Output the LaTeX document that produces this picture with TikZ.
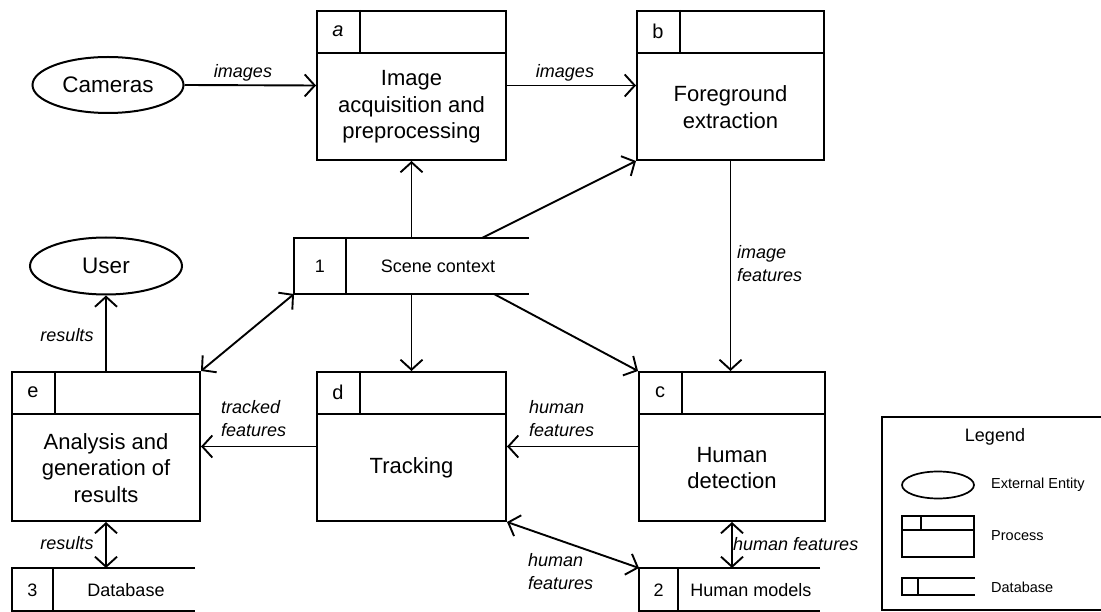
\documentclass[tikz,border=0pt]{standalone}
\usepackage{fontspec}
\setmainfont{Liberation Sans}
\usetikzlibrary{arrows.meta,shapes.geometric,calc}

% process box: name, centre, width, tag, body text
\newcommand\procbox[5]{%
  \node[procframe, minimum width=#3pt] (#1) at (#2) {};
  \draw[frameline] ([yshift=-43pt]#1.north west) -- ([yshift=-43pt]#1.north east);
  \draw[frameline] ([xshift=44pt]#1.north west) -- ([xshift=44pt,yshift=-43pt]#1.north west);
  \node[tagtext] (#1-tag) at ([xshift=22pt,yshift=-21.5pt]#1.north west) {#4};
  \node[bodytext] (#1-body) at ($([yshift=-43pt]#1.north)!0.5!(#1.south)$) {#5};
}
% data store outline: name, width of the number cell
\newcommand\storelines[2]{%
  \draw[frameline] (#1.north east) -- (#1.north west) -- (#1.south west) -- (#1.south east);
  \draw[frameline] ([xshift=#2pt]#1.north west) -- ([xshift=#2pt]#1.south west);
}

\begin{document}
\begin{tikzpicture}[x=1pt,y=-1pt,
  frameline/.style={line width=2pt},
  procframe/.style={draw, line width=2pt, rectangle, inner sep=0pt, minimum height=149pt},
  storeframe/.style={rectangle, draw=none, inner sep=0pt, outer sep=0pt, minimum height=43pt},
  entity/.style={draw, line width=2pt, ellipse, inner sep=0pt, font=\fontsize{22.5}{26}\selectfont},
  tagtext/.style={inner sep=0pt, font=\fontsize{20}{24}\selectfont},
  bodytext/.style={inner sep=0pt, align=center, font=\fontsize{22}{26.5}\selectfont},
  storetext/.style={inner sep=0pt, font=\fontsize{18}{22}\selectfont},
  flowlabel/.style={inner sep=0pt, align=left, font=\fontsize{18}{23}\selectfont\itshape},
  legtext/.style={inner sep=0pt, anchor=west, font=\fontsize{14.5}{17}\selectfont},
  flow/.style={line width=1.9pt, -{Straight Barb[length=10pt,width=22pt]}},
  bothways/.style={line width=1.9pt, {Straight Barb[length=10pt,width=22pt]}-{Straight Barb[length=10pt,width=22pt]}}
]
\useasboundingbox (0,0) rectangle (1101,612);
\clip (0,0) rectangle (1101,612);

% external entities
\node[entity, minimum width=151pt, minimum height=56pt] (cam) at (108,85) {Cameras};
\node[entity, minimum width=152pt, minimum height=57pt] (user) at (106,266) {User};

% processes
\procbox{pa}{411.5,85.5}{189}{\textit{a}}{Image\\acquisition and\\preprocessing}
\procbox{pb}{730.5,85.5}{187}{b}{Foreground\\extraction}
\procbox{pc}{732,446.5}{186}{c}{Human\\detection}
\procbox{pd}{411.5,446.5}{189}{d}{Tracking}
\procbox{pe}{106,446.5}{188}{e}{Analysis and\\generation of\\results}

% data stores
\node[storeframe, minimum width=235pt, minimum height=56pt] (scene) at (411.5,266) {};
\storelines{scene}{52}
\node[storetext] (scene-num) at (320,266) {1};
\node[storetext] (scene-txt) at (438,266) {Scene context};

\node[storeframe, minimum width=183pt] (db) at (103.5,589.5) {};
\storelines{db}{41}
\node[storetext] (db-num) at (32.5,590) {3};
\node[storetext] (db-txt) at (126,590) {Database};

\node[storeframe, minimum width=181pt] (hm) at (729.5,589.5) {};
\storelines{hm}{39}
\node[storetext] (hm-num) at (658.5,590) {2};
\node[storetext] (hm-txt) at (751,590) {Human models};

% data flows
\draw[flow] (cam.east) -- (pa.west);
\draw[flow] (pa.east) -- (pb.west);
\draw[flow] (scene.north) -- (pa.south);
\draw[flow] ([xshift=70.5pt]scene.north) -- (pb.south west);
\draw[flow] (pb.south) -- (pb.south |- pc.north);
\draw[flow] ([xshift=82.5pt]scene.south) -- (pc.north west);
\draw[flow] (scene.south) -- (pd.north);
\draw[bothways] (scene.south west) -- (pe.north east);
\draw[flow] (pe.north) -- (user.south);
\draw[flow] (pc.west) -- (pd.east);
\draw[flow] (pd.west) -- (pe.east);
\draw[bothways] (pe.south) -- (pe.south |- db.north);
\draw[bothways] (pc.south) -- (pc.south |- hm.north);
\draw[bothways] (pd.south east) -- (hm.north west);

% flow labels
\node[flowlabel] (l-cam) at (243,73) {images};
\node[flowlabel] (l-ab) at (565,73) {images};
\node[flowlabel, anchor=west] (l-bc) at (737,263.5) {image\\features};
\node[flowlabel] (l-user) at (67,335) {results};
\node[flowlabel, anchor=west] (l-de) at (221,418.5) {tracked\\features};
\node[flowlabel, anchor=west] (l-cd) at (529,418.5) {human\\features};
\node[flowlabel] (l-db) at (67,543) {results};
\node[flowlabel, anchor=west] (l-chm) at (733,544) {human features};
\node[flowlabel, anchor=west] (l-dhm) at (528,572) {human\\features};

% legend
\node[draw, line width=2pt, rectangle, inner sep=0pt, minimum width=238pt, minimum height=193pt] (legend) at (1001,513.5) {};
\node[inner sep=0pt, font=\fontsize{18}{22}\selectfont] (leg-title) at (995,437) {Legend};
\node[draw, line width=1.7pt, ellipse, inner sep=0pt, minimum width=72pt, minimum height=27pt] (leg-ent) at (938,485) {};
\node[legtext] (leg-ent-txt) at (991,485) {External Entity};
\node[draw, line width=1.7pt, rectangle, inner sep=0pt, minimum width=72pt, minimum height=41pt] (leg-proc) at (938,536.5) {};
\draw[line width=1.7pt] ([yshift=-15pt]leg-proc.north west) -- ([yshift=-15pt]leg-proc.north east);
\draw[line width=1.7pt] ([xshift=20pt]leg-proc.north west) -- ([xshift=20pt,yshift=-15pt]leg-proc.north west);
\node[legtext] (leg-proc-txt) at (991,536) {Process};
\node[rectangle, draw=none, inner sep=0pt, outer sep=0pt, minimum width=73pt, minimum height=17pt] (leg-db) at (938.5,586.5) {};
\draw[line width=1.7pt] (leg-db.north east) -- (leg-db.north west) -- (leg-db.south west) -- (leg-db.south east);
\draw[line width=1.7pt] ([xshift=16pt]leg-db.north west) -- ([xshift=16pt]leg-db.south west);
\node[legtext] (leg-db-txt) at (991,587) {Database};
\end{tikzpicture}
\end{document}
